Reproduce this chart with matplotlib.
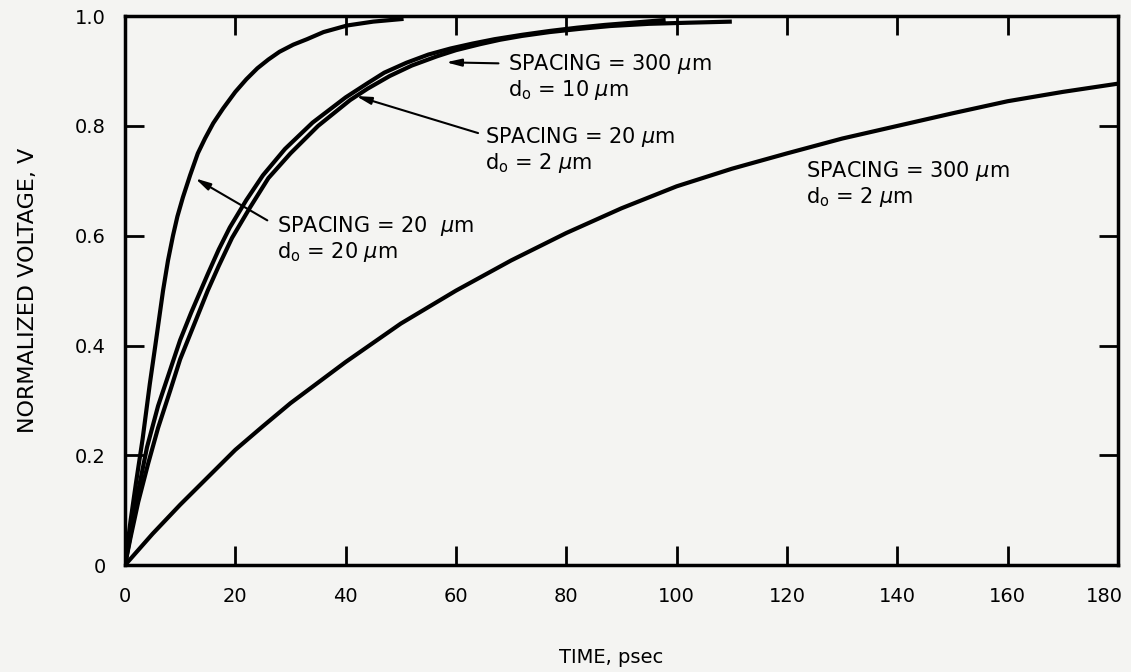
import matplotlib
matplotlib.use("Agg")
import matplotlib.pyplot as plt
from matplotlib.transforms import ScaledTranslation

# curves: time in psec, normalized voltage
t_20_20 = [0, 0.5, 1, 2, 3.2, 4.5, 5.5, 6.9, 7.8, 8.7, 9.5, 10.5, 11.8, 13.2, 14.5, 16, 17.8, 20, 22, 24, 26, 28, 30.5, 33, 36, 40.3, 45, 50.5]
v_20_20 = [0, 0.04, 0.08, 0.15, 0.23, 0.33, 0.40, 0.50, 0.555, 0.60, 0.635, 0.67, 0.71, 0.75, 0.777, 0.805, 0.832, 0.862, 0.885, 0.905, 0.921, 0.935, 0.948, 0.958, 0.971, 0.983, 0.99, 0.995]

t_20_2 = [0, 1, 2.4, 4.2, 6, 8.2, 10, 12.2, 15, 17, 19.4, 22.7, 26, 30, 35, 40.8, 44, 48, 52, 56.6, 60, 64.4, 68, 72, 77, 82.6, 88, 95, 102, 110]
v_20_2 = [0, 0.05, 0.115, 0.185, 0.25, 0.318, 0.375, 0.43, 0.5, 0.545, 0.596, 0.652, 0.705, 0.75, 0.8, 0.847, 0.868, 0.891, 0.91, 0.927, 0.938, 0.949, 0.957, 0.964, 0.971, 0.977, 0.982, 0.986, 0.988, 0.99]

t_300_10 = [0, 1, 2.2, 4, 6, 8, 10, 12, 15, 17, 19, 22, 25, 29, 34, 40, 44, 47, 51, 55, 59, 63, 67, 72, 77, 82, 87, 92, 98]
v_300_10 = [0, 0.055, 0.125, 0.215, 0.29, 0.35, 0.41, 0.46, 0.53, 0.575, 0.615, 0.665, 0.71, 0.758, 0.806, 0.852, 0.878, 0.897, 0.915, 0.93, 0.941, 0.95, 0.958, 0.966, 0.973, 0.979, 0.984, 0.988, 0.993]

t_300_2 = [0, 5, 10, 15, 20, 25, 30, 40, 50, 60, 70, 80, 90, 100, 110, 120, 130, 140, 150, 160, 170, 180]
v_300_2 = [0, 0.057, 0.11, 0.16, 0.21, 0.253, 0.295, 0.37, 0.44, 0.50, 0.555, 0.605, 0.65, 0.69, 0.722, 0.75, 0.777, 0.80, 0.823, 0.845, 0.862, 0.877]

x_ticks = [0, 20, 40, 60, 80, 100, 120, 140, 160, 180]
y_ticks = [0, 0.2, 0.4, 0.6, 0.8, 1.0]
y_labels = ["0", "0.2", "0.4", "0.6", "0.8", "1.0"]

bg = "#f4f4f2"
fig = plt.figure(figsize=(11.31, 6.72), dpi=100, facecolor=bg)
ax = fig.add_axes([0.1105, 0.159, 0.878, 0.817])
ax.set_facecolor(bg)

style = dict(color="black", lw=3.0, solid_capstyle="butt", solid_joinstyle="round")
ax.plot(t_20_20, v_20_20, **style)
ax.plot(t_20_2, v_20_2, **style)
ax.plot(t_300_10, v_300_10, **style)
ax.plot(t_300_2, v_300_2, **style)

ax.set_xlim(0, 180)
ax.set_ylim(0, 1.0)
ax.set_xticks(x_ticks)
ax.set_yticks(y_ticks)
ax.set_yticklabels(y_labels)
ax.tick_params(direction="in", length=14, width=2, top=True, right=True, labelsize=14)
ax.tick_params(axis="x", pad=16)
ax.tick_params(axis="y", pad=14)
for s in ax.spines.values():
    s.set_linewidth(2.5)

# last x label sits a bit left so it stays on the page
last = ax.get_xticklabels()[-1]
last.set_transform(last.get_transform() + ScaledTranslation(-14 / 100, 0, fig.dpi_scale_trans))

ax.set_xlabel("TIME, psec", fontsize=14)
ax.xaxis.set_label_coords(0.49, -0.15)
ax.set_ylabel("NORMALIZED VOLTAGE, V", fontsize=16)
ax.yaxis.set_label_coords(-0.088, 0.5)

arrow = dict(arrowstyle="-|>,head_length=0.9,head_width=0.22", color="black", lw=1.5, shrinkA=0, shrinkB=2)
fs = 15

ax.annotate("", xy=(12.3, 0.707), xytext=(25.8, 0.628), arrowprops=arrow)
ax.text(27.6, 0.64, "SPACING = 20  $\\mu$m\nd$_\\mathrm{o}$ = 20 $\\mu$m", fontsize=fs, va="top", ha="left", linespacing=1.1)

ax.annotate("", xy=(57.7, 0.916), xytext=(67.7, 0.914), arrowprops=arrow)
ax.text(69.5, 0.935, "SPACING = 300 $\\mu$m\nd$_\\mathrm{o}$ = 10 $\\mu$m", fontsize=fs, va="top", ha="left", linespacing=1.1)

ax.annotate("", xy=(41.4, 0.856), xytext=(64.0, 0.787), arrowprops=arrow)
ax.text(65.3, 0.802, "SPACING = 20 $\\mu$m\nd$_\\mathrm{o}$ = 2 $\\mu$m", fontsize=fs, va="top", ha="left", linespacing=1.1)

ax.text(123.4, 0.739, "SPACING = 300 $\\mu$m\nd$_\\mathrm{o}$ = 2 $\\mu$m", fontsize=fs, va="top", ha="left", linespacing=1.1)

fig.savefig("out.png", dpi=100, facecolor=bg)
